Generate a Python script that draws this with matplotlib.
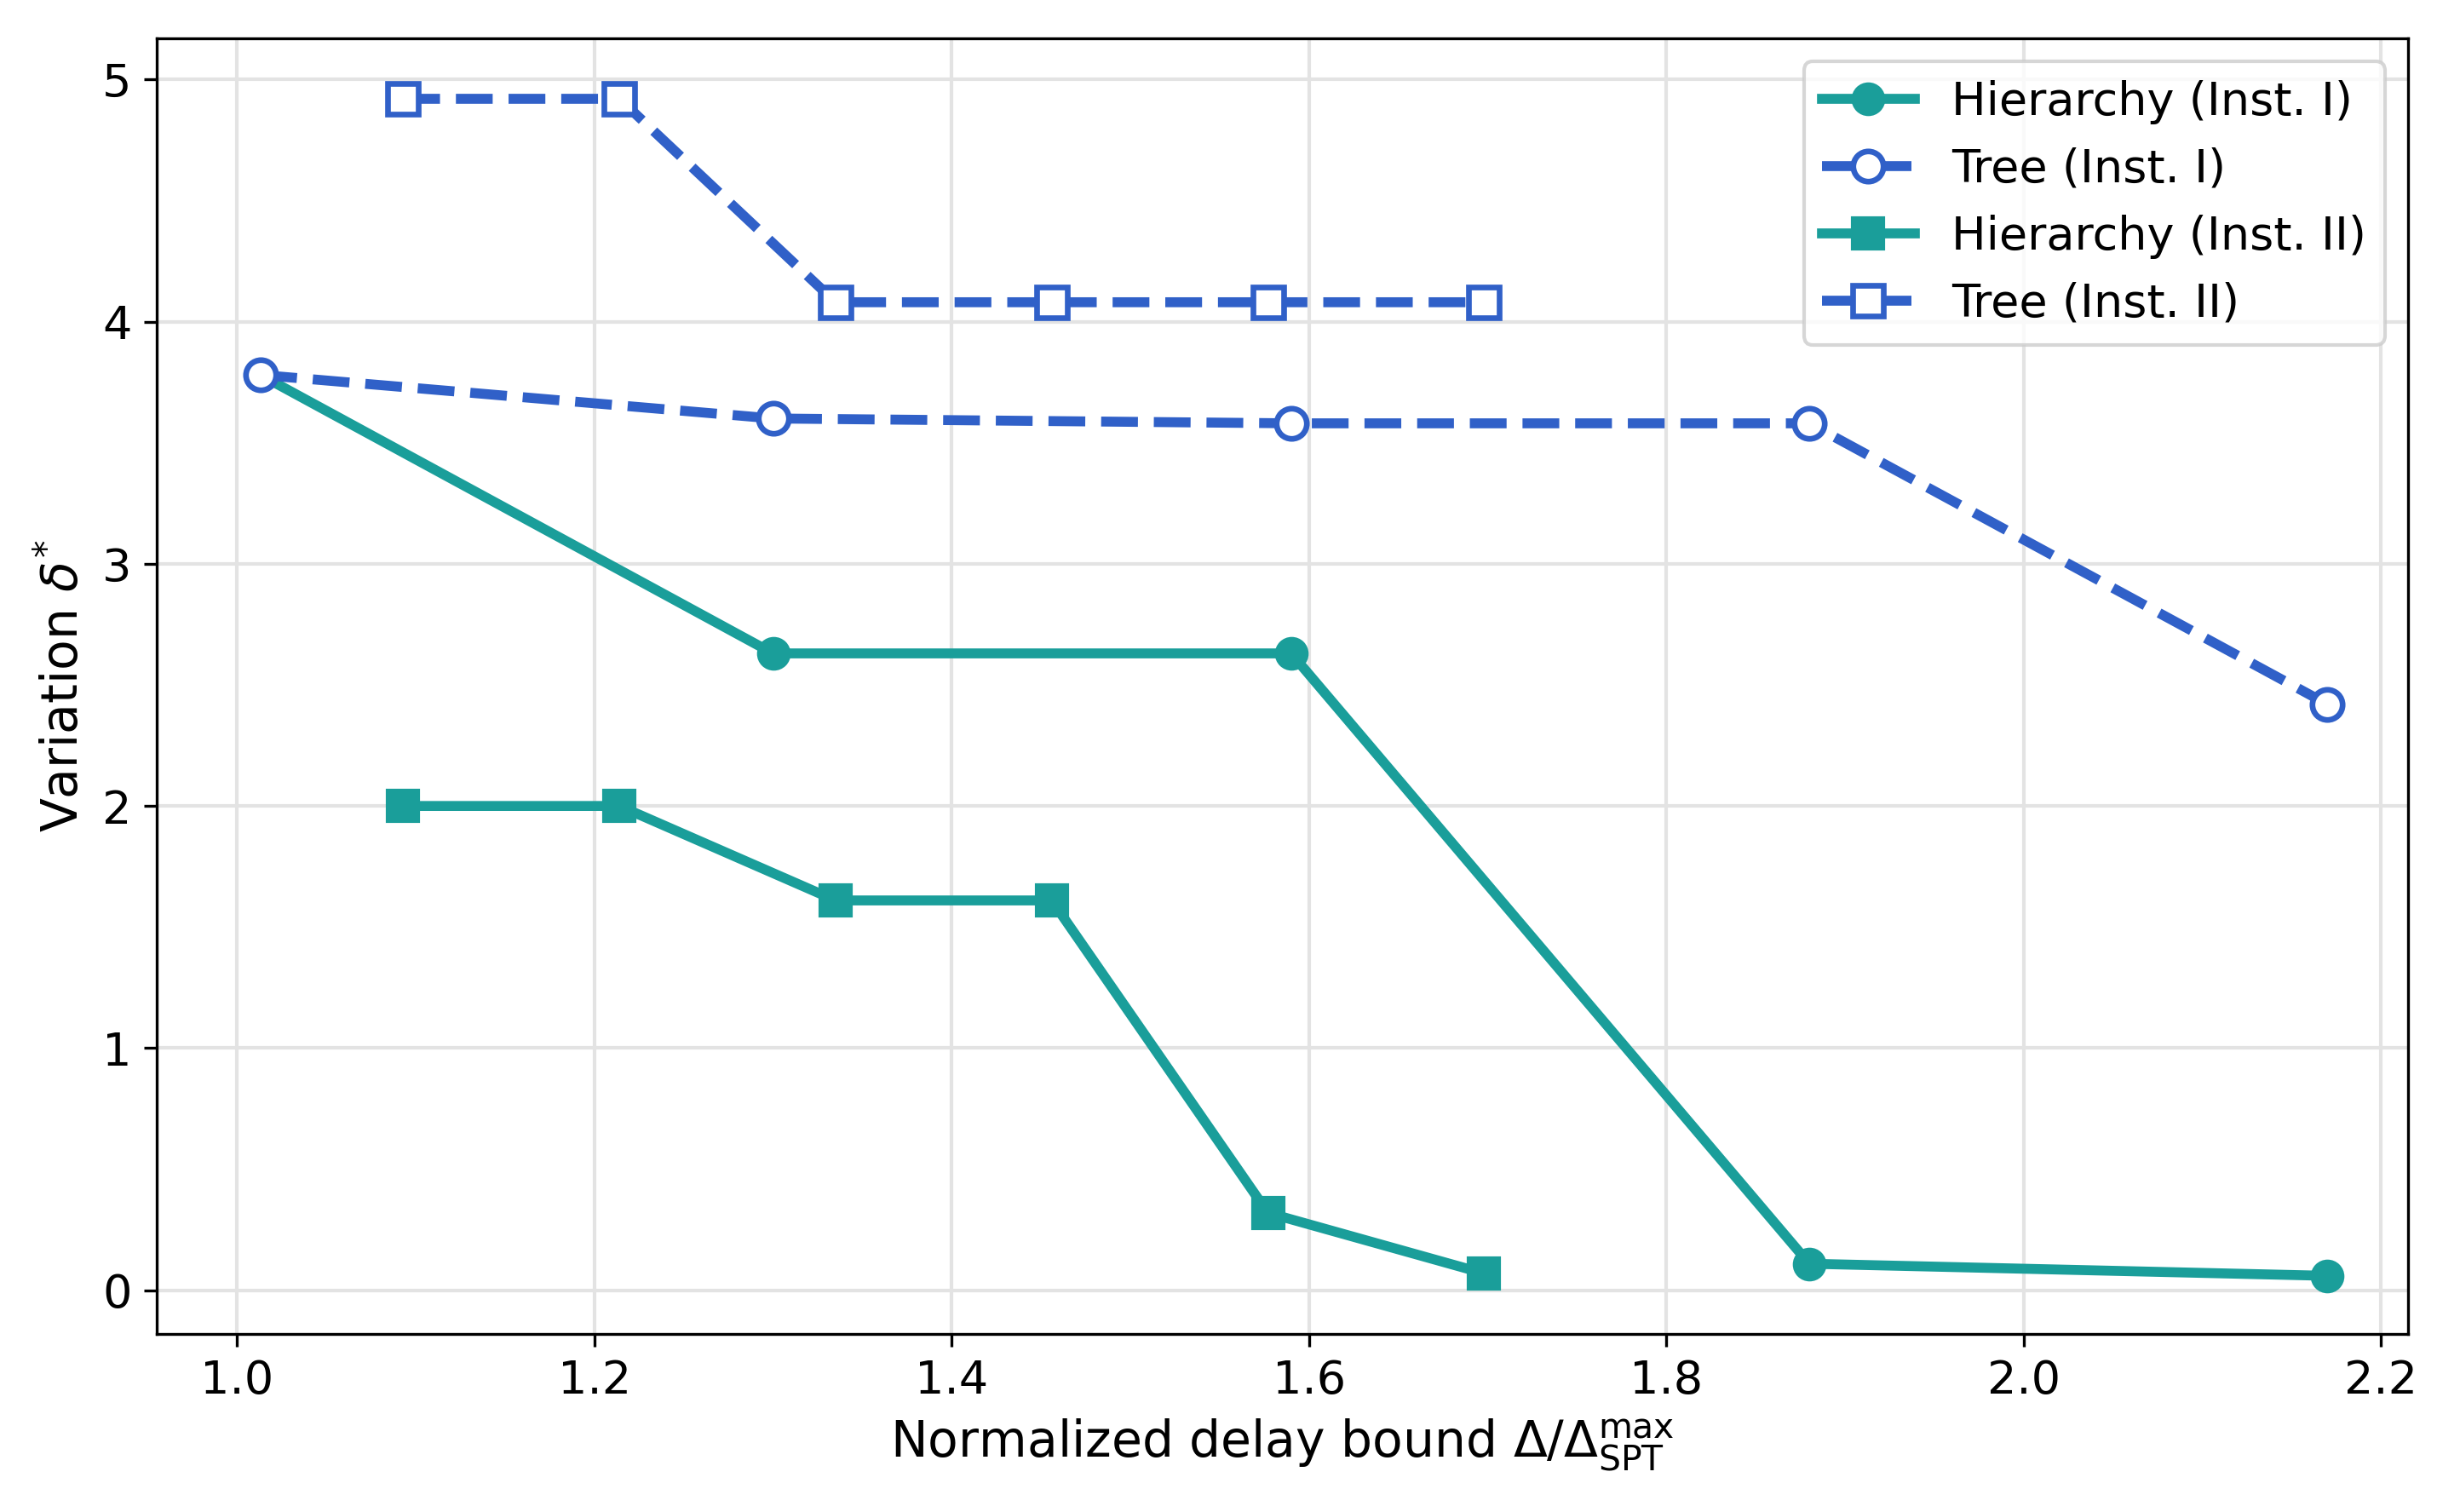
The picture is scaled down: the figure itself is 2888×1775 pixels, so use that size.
import matplotlib.pyplot as plt

# data
x_inst1 = [1.013, 1.30, 1.59, 1.88, 2.17]
hier_inst1 = [3.78, 2.63, 2.63, 0.11, 0.06]
tree_inst1 = [3.78, 3.60, 3.58, 3.58, 2.42]

x_inst2 = [1.093, 1.214, 1.335, 1.456, 1.577, 1.698]
hier_inst2 = [2.00, 2.00, 1.61, 1.61, 0.32, 0.07]
tree_inst2 = [4.92, 4.92, 4.08, 4.08, 4.08, 4.08]

teal = "#1a9e9a"
blue = "#3060c8"

fig, ax = plt.subplots(figsize=(9.627, 5.917), dpi=300)

ax.plot(x_inst1, hier_inst1, "-o", color=teal, lw=2.8, ms=8.5, label="Hierarchy (Inst. I)")
ax.plot(x_inst1, tree_inst1, "--o", color=blue, lw=2.8, ms=8.5, mfc="white", mew=1.6, label="Tree (Inst. I)")
ax.plot(x_inst2, hier_inst2, "-s", color=teal, lw=2.8, ms=8.5, label="Hierarchy (Inst. II)")
ax.plot(x_inst2, tree_inst2, "--s", color=blue, lw=2.8, ms=8.5, mfc="white", mew=1.6, label="Tree (Inst. II)")

ax.set_xlabel(r"Normalized delay bound $\Delta/\Delta_{\mathrm{SPT}}^{\mathrm{max}}$", fontsize=14)
ax.set_ylabel(r"Variation $\delta^{*}$", fontsize=14)
ax.tick_params(labelsize=13)
ax.set_xticks([1.0, 1.2, 1.4, 1.6, 1.8, 2.0, 2.2])
ax.set_xlim(0.955, 2.215)
ax.set_ylim(-0.18, 5.17)
ax.grid(True, color="#e3e3e3", lw=1)
ax.set_axisbelow(True)
ax.legend(loc="upper right", fontsize=13)

fig.tight_layout()
fig.savefig("out.png")
